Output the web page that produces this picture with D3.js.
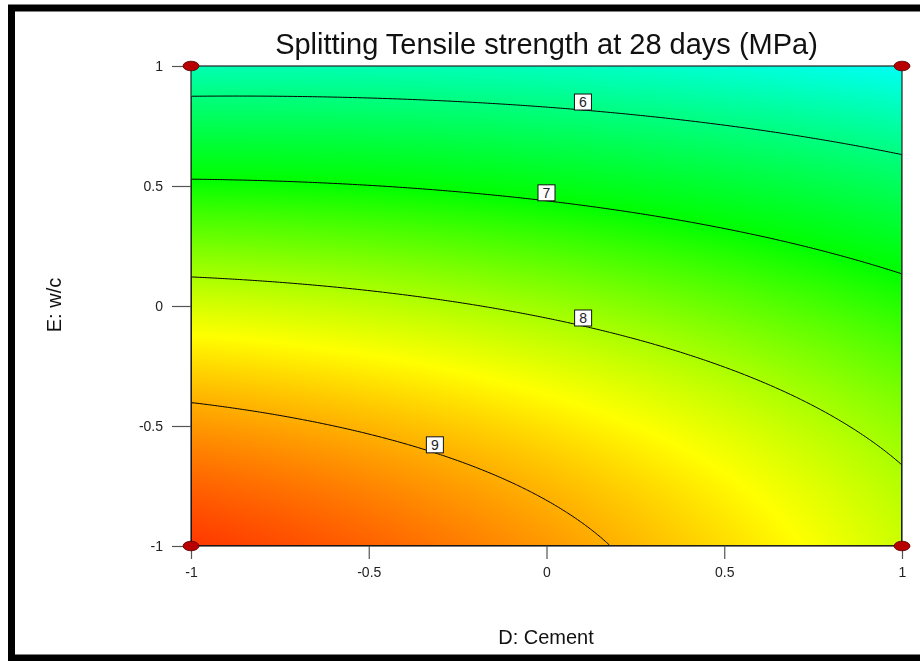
<!DOCTYPE html>
<html>
<head>
<meta charset="utf-8">
<script src="https://cdn.jsdelivr.net/npm/d3@7"></script>
<style>
  html, body { margin: 0; padding: 0; background: #fff; }
  #wrap { position: relative; width: 920px; height: 661px; overflow: hidden; }
  #wrap canvas, #wrap svg { position: absolute; left: 0; top: 0; }
  text { font-family: "Liberation Sans", Arial, sans-serif; }
</style>
</head>
<body>
<div id="wrap">
  <canvas id="fill" width="920" height="661"></canvas>
  <svg id="chart" width="920" height="661"></svg>
</div>
<script>
// ---- chart content ----
const chartTitle = "Splitting Tensile strength at 28 days (MPa)";
const xTitle = "D: Cement";
const yTitle = "E: w/c";
const xTicks = [-1, -0.5, 0, 0.5, 1];
const yTicks = [-1, -0.5, 0, 0.5, 1];

// quadratic response-surface model in coded factors D and E
const modelTerms   = ["1", "D", "E", "DE", "D2", "E2"];
const coefficients = [7.91, -0.52, -1.82, 0.255, -0.17, -0.585];

// contour levels and where along D each level's label sits
const contourLevels = [6, 7, 8, 9];
const labelAtD      = [0.1025, 0, 0.103, -0.314];

// factorial design points shown on the corners
const designD = [-1, -1, 1, 1];
const designE = [-1, 1, -1, 1];

// response colour ramp
const colorDomain = [5.0, 7.0, 8.5, 10.1];
const colorRange  = ["#00ffff", "#00ff00", "#ffff00", "#ff0000"];

// ---- model evaluation ----
function termValue(term, D, E) {
  switch (term) {
    case "1": return 1;
    case "D": return D;
    case "E": return E;
    case "DE": return D * E;
    case "D2": return D * D;
    case "E2": return E * E;
  }
  return 0;
}
function predict(D, E) {
  let s = 0;
  for (let k = 0; k < modelTerms.length; k++) s += coefficients[k] * termValue(modelTerms[k], D, E);
  return s;
}

// ---- layout ----
const W = 920, H = 661;
const plot = { left: 191, right: 902, top: 66, bottom: 546 };

const x = d3.scaleLinear().domain([-1, 1]).range([plot.left, plot.right]);
const y = d3.scaleLinear().domain([-1, 1]).range([plot.bottom, plot.top]);
const color = d3.scaleLinear().domain(colorDomain).range(colorRange)
  .interpolate(d3.interpolateRgb).clamp(true);

// ---- shaded response surface on the canvas ----
(function paintSurface() {
  const ctx = document.getElementById("fill").getContext("2d");
  const w = plot.right - plot.left, h = plot.bottom - plot.top;
  const img = ctx.createImageData(w, h);
  for (let j = 0; j < h; j++) {
    const E = y.invert(plot.top + j + 0.5);
    for (let i = 0; i < w; i++) {
      const D = x.invert(plot.left + i + 0.5);
      const c = d3.rgb(color(predict(D, E)));
      const o = (j * w + i) * 4;
      img.data[o] = c.r; img.data[o + 1] = c.g; img.data[o + 2] = c.b; img.data[o + 3] = 255;
    }
  }
  ctx.putImageData(img, plot.left, plot.top);
})();

const svg = d3.select("#chart");

// outer frame
svg.append("rect")
  .attr("x", 11.5).attr("y", 8).attr("width", 930).attr("height", 650)
  .attr("fill", "none").attr("stroke", "#000").attr("stroke-width", 7);

svg.append("defs").append("clipPath").attr("id", "plotClip")
  .append("rect")
  .attr("x", plot.left).attr("y", plot.top)
  .attr("width", plot.right - plot.left).attr("height", plot.bottom - plot.top);

// ---- contour lines ----
const nx = 284, ny = 192;
const grid = new Float64Array(nx * ny);
for (let j = 0; j < ny; j++) {
  const E = 1 - 2 * (j + 0.5) / ny;
  for (let i = 0; i < nx; i++) {
    const D = -1 + 2 * (i + 0.5) / nx;
    grid[j * nx + i] = predict(D, E);
  }
}
const contours = d3.contours().size([nx, ny]).thresholds(contourLevels)(grid);
const gridToScreen = d3.geoTransform({
  point(gx, gy) { this.stream.point(x(-1 + 2 * gx / nx), y(1 - 2 * gy / ny)); }
});
const contourPath = d3.geoPath(gridToScreen);

svg.append("g").attr("clip-path", "url(#plotClip)")
  .selectAll("path").data(contours).join("path")
  .attr("d", contourPath)
  .attr("fill", "none").attr("stroke", "#000").attr("stroke-width", 1);

// plot frame
svg.append("rect")
  .attr("x", plot.left).attr("y", plot.top)
  .attr("width", plot.right - plot.left).attr("height", plot.bottom - plot.top)
  .attr("fill", "none").attr("stroke", "#222").attr("stroke-width", 1.2);

// ---- contour labels ----
function solveE(level, D) {
  let lo = -1, hi = 1; // response decreases with E over the region
  for (let k = 0; k < 60; k++) {
    const mid = (lo + hi) / 2;
    if (predict(D, mid) > level) lo = mid; else hi = mid;
  }
  return (lo + hi) / 2;
}
const labels = svg.append("g");
contourLevels.forEach((lv, k) => {
  const D = labelAtD[k];
  const E = solveE(lv, D);
  const cx = x(D), cy = y(E);
  const g = labels.append("g").attr("transform", `translate(${cx},${cy})`);
  g.append("rect").attr("x", -8.5).attr("y", -16).attr("width", 17).attr("height", 16)
    .attr("fill", "#fff").attr("stroke", "#111").attr("stroke-width", 1);
  g.append("text").attr("x", 0).attr("y", -3).attr("text-anchor", "middle")
    .attr("font-size", 14).attr("fill", "#222").text(lv);
});

// ---- axes ----
const tickFmt = d => String(d);
const xAxis = svg.append("g").attr("transform", `translate(0,${plot.bottom})`)
  .call(d3.axisBottom(x).tickValues(xTicks).tickFormat(tickFmt).tickSize(13).tickPadding(8).tickSizeOuter(0));
const yAxis = svg.append("g").attr("transform", `translate(${plot.left},0)`)
  .call(d3.axisLeft(y).tickValues(yTicks).tickFormat(tickFmt).tickSize(19).tickPadding(9).tickSizeOuter(0));
[xAxis, yAxis].forEach(a => {
  a.select(".domain").remove();
  a.selectAll(".tick line").attr("stroke", "#555").attr("stroke-width", 1.2);
  a.selectAll(".tick text").attr("font-size", 14).attr("fill", "#222")
    .attr("font-family", "'Liberation Sans', Arial, sans-serif");
});

// ---- design points ----
svg.append("g").selectAll("ellipse").data(designD).join("ellipse")
  .attr("cx", (d, i) => x(designD[i]))
  .attr("cy", (d, i) => y(designE[i]))
  .attr("rx", 8).attr("ry", 4.8)
  .attr("fill", "#b80000").attr("stroke", "#500").attr("stroke-width", 0.8);

// ---- titles ----
svg.append("text").attr("x", 546.5).attr("y", 54).attr("text-anchor", "middle")
  .attr("font-size", 29).attr("fill", "#111").text(chartTitle);
svg.append("text").attr("x", 546).attr("y", 644).attr("text-anchor", "middle")
  .attr("font-size", 20).attr("fill", "#111").text(xTitle);
svg.append("text").attr("transform", "translate(61,305) rotate(-90)").attr("text-anchor", "middle")
  .attr("font-size", 20).attr("fill", "#111").text(yTitle);
</script>
</body>
</html>
